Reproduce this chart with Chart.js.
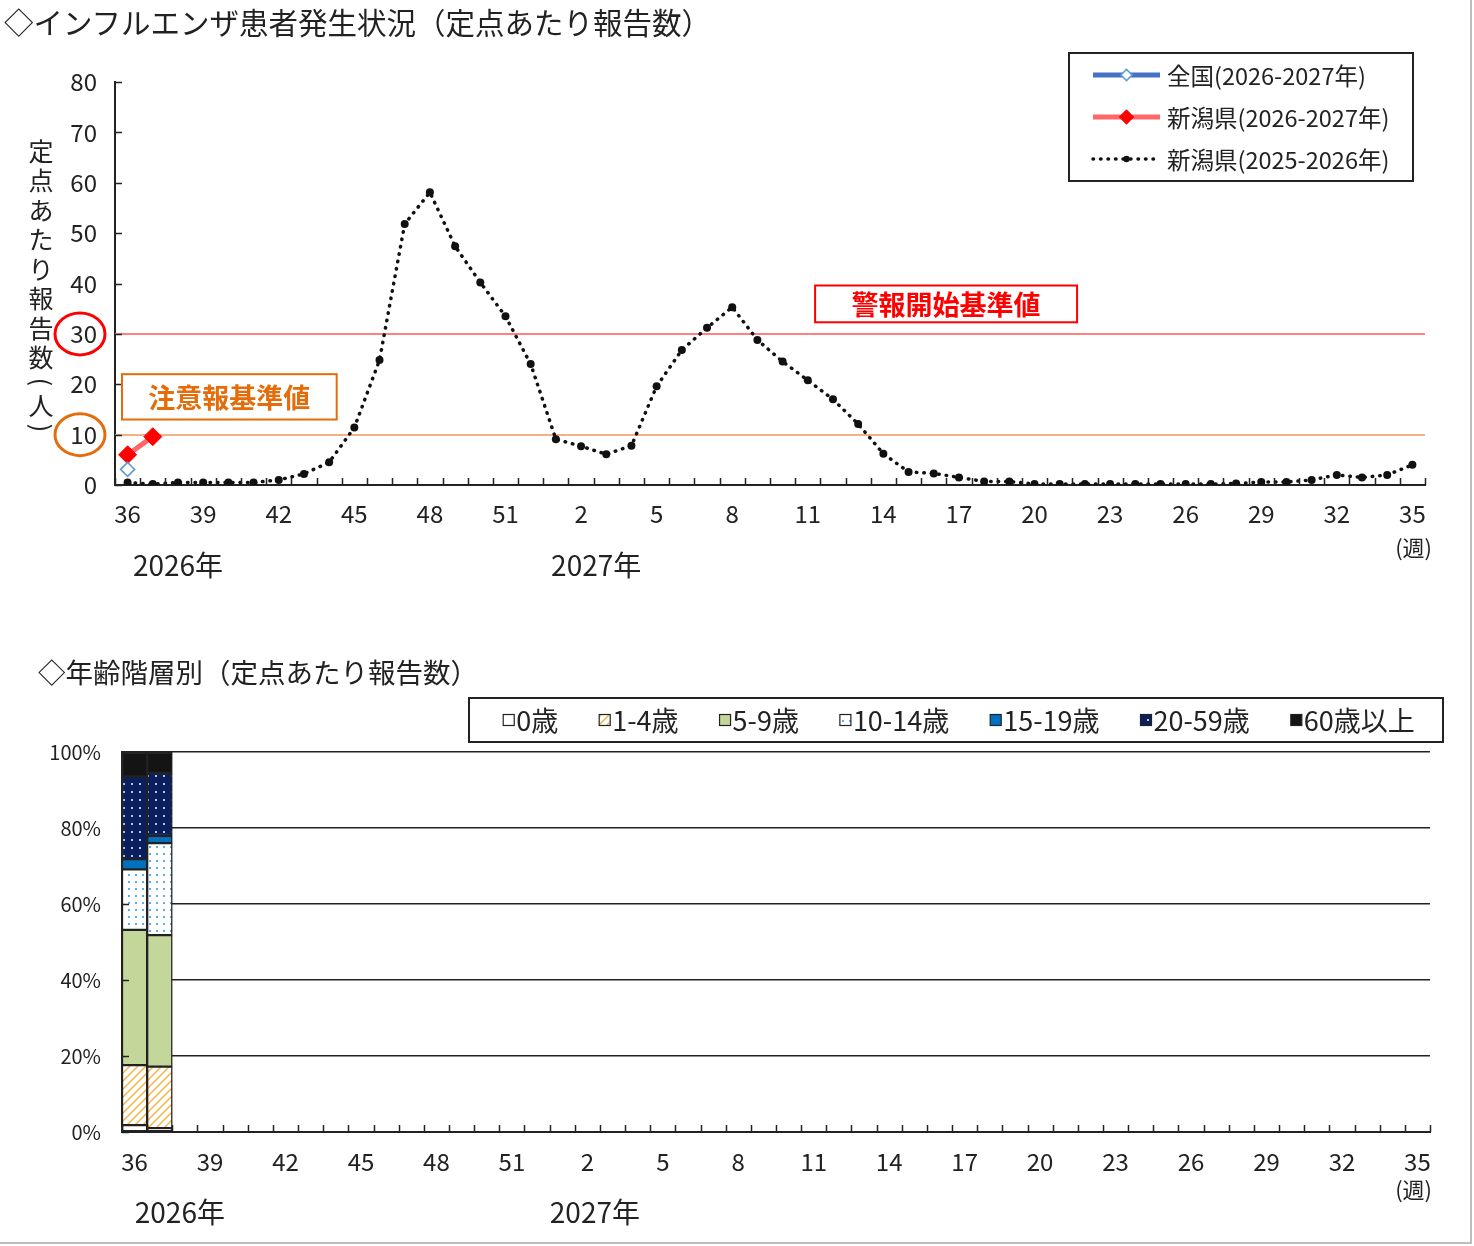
<!DOCTYPE html>
<html>
<head>
<meta charset="utf-8">
<script src="https://cdn.jsdelivr.net/npm/chart.js@4.4.1/dist/chart.umd.min.js"></script>
<style>
  body { margin: 0; background: #fff; }
  #page { position: relative; width: 1474px; height: 1246px; overflow: hidden; font-family: 'Noto Sans CJK JP', sans-serif; color: #222; }
  #frame { position: absolute; left: 0; top: 0; width: 1470px; height: 1242px; border-right: 2px solid #bdbdbd; border-bottom: 2px solid #bdbdbd; }
  .title { position: absolute; white-space: nowrap; line-height: 1; z-index: 2; }
  #title1 { left: 4px; top: 7px; font-size: 29.5px; }
  #title2 { left: 38px; top: 658px; font-size: 27.5px; }
  canvas { position: absolute; left: 0; }
  #trendChart { top: 0; }
  #ageChart { top: 620px; }
</style>
</head>
<body>
<div id="page">
  <div id="frame"></div>
  <div class="title" id="title1">◇インフルエンザ患者発生状況（定点あたり報告数）</div>
  <div class="title" id="title2">◇年齢階層別（定点あたり報告数）</div>
  <canvas id="trendChart" width="1474" height="620"></canvas>
  <canvas id="ageChart" width="1474" height="626"></canvas>
</div>
<script>
// week labels (2026 wk36 .. 2027 wk35)
const weekLabels = ['36','37','38','39','40','41','42','43','44','45','46','47','48','49','50','51','52',
  '1','2','3','4','5','6','7','8','9','10','11','12','13','14','15','16','17','18','19','20',
  '21','22','23','24','25','26','27','28','29','30','31','32','33','34','35'];

// reports per sentinel site
const nationalCur = [3.1];
const niigataCur = [6.0, 9.6];
const niigataPrev = [0.5, 0.2, 0.5, 0.5, 0.5, 0.5, 1.0, 2.2, 4.5, 11.4, 24.8, 51.8, 58.1, 47.4, 40.2, 33.5, 24.0,
  9.1, 7.7, 6.1, 7.8, 19.6, 26.8, 31.2, 35.3, 28.8, 24.5, 20.8, 17.0, 12.1, 6.2, 2.6, 2.3, 1.5, 0.7, 0.7,
  0.2, 0.2, 0.2, 0.2, 0.2, 0.2, 0.2, 0.2, 0.3, 0.6, 0.6, 1.0, 2.0, 1.5, 2.0, 4.0];

const ADVISORY_LEVEL = 10;
const ALERT_LEVEL = 30;

// age group shares (%)
const ageGroups = ['0歳', '1-4歳', '5-9歳', '10-14歳', '15-19歳', '20-59歳', '60歳以上'];
const age0 = [1.8, 1.0];
const age1to4 = [15.8, 16.2];
const age5to9 = [35.6, 34.6];
const age10to14 = [15.9, 24.2];
const age15to19 = [2.7, 1.9];
const age20to59 = [21.7, 16.5];
const age60plus = [6.5, 5.6];

Chart.defaults.font.family = "'Noto Sans CJK JP', sans-serif";
Chart.defaults.color = '#222';

function makePattern(size, bg, paint) {
    const c = document.createElement('canvas');
    c.width = c.height = size;
    const g = c.getContext('2d');
    g.fillStyle = bg;
    g.fillRect(0, 0, size, size);
    paint(g);
    return g.createPattern(c, 'repeat');
}

const hatchOrange = makePattern(8, '#fff', g => {
    g.strokeStyle = '#f6b545';
    g.lineWidth = 1.5;
    g.beginPath();
    g.moveTo(0, 8); g.lineTo(8, 0);
    g.moveTo(-2, 2); g.lineTo(2, -2);
    g.moveTo(6, 10); g.lineTo(10, 6);
    g.stroke();
});
const dotsBlue = makePattern(7, '#fff', g => {
    g.fillStyle = '#5aaef0';
    g.fillRect(2, 2, 2, 2);
});
const dotsNavy = makePattern(8, '#0b1f5e', g => {
    g.fillStyle = '#b7c3e6';
    g.fillRect(3, 3, 2, 2);
});

// draws tick marks pointing into the plot area
const inwardTicks = {
    id: 'inwardTicks',
    afterDatasetsDraw(chart) {
        const { ctx, chartArea: a, scales: { x, y } } = chart;
        ctx.save();
        ctx.strokeStyle = '#222';
        ctx.lineWidth = 1.5;
        ctx.beginPath();
        y.ticks.forEach(t => {
            const py = Math.round(y.getPixelForValue(t.value)) + 0.5;
            ctx.moveTo(a.left, py);
            ctx.lineTo(a.left + 7, py);
        });
        for (let i = 0; i <= x.getLabels().length; i++) {
            const px = Math.round(x.getPixelForValue(i - 0.5)) + 0.5;
            ctx.moveTo(px, a.bottom);
            ctx.lineTo(px, a.bottom - 7);
        }
        ctx.stroke();
        ctx.restore();
    }
};

// year captions and week unit under the x axis
const yearCaptions = {
    id: 'yearCaptions',
    afterDraw(chart, args, opts) {
        const { ctx, chartArea: a, scales: { x } } = chart;
        ctx.save();
        ctx.fillStyle = '#222';
        ctx.textBaseline = 'middle';
        ctx.textAlign = 'center';
        ctx.font = "28px 'Noto Sans CJK JP'";
        ctx.fillText('2026年', x.getPixelForValue(opts.at[0]), a.bottom + 80);
        ctx.fillText('2027年', x.getPixelForValue(opts.at[1]), a.bottom + 80);
        ctx.textAlign = 'right';
        ctx.font = "22px 'Noto Sans CJK JP'";
        ctx.fillText('(週)', a.right + opts.unitDx, a.bottom + opts.unitDy);
        ctx.restore();
    }
};

// threshold lines behind the data
const thresholdLines = {
    id: 'thresholdLines',
    beforeDatasetsDraw(chart) {
        const { ctx, chartArea: a, scales: { y } } = chart;
        ctx.save();
        ctx.lineWidth = 2;
        [[ALERT_LEVEL, '#ff7f82'], [ADVISORY_LEVEL, '#f5b184']].forEach(([v, c]) => {
            const py = Math.round(y.getPixelForValue(v));
            ctx.strokeStyle = c;
            ctx.beginPath();
            ctx.moveTo(a.left, py);
            ctx.lineTo(a.right, py);
            ctx.stroke();
        });
        ctx.restore();
    }
};

// boxes, circled tick labels, vertical axis title and legend for the trend chart
const trendDecor = {
    id: 'trendDecor',
    afterDraw(chart) {
        const { ctx, chartArea: a, scales: { x, y } } = chart;
        ctx.save();

        function labelBox(text, color, left, right, top, bottom) {
            ctx.fillStyle = '#fff';
            ctx.fillRect(left, top, right - left, bottom - top);
            ctx.strokeStyle = color;
            ctx.lineWidth = 2;
            ctx.strokeRect(left, top, right - left, bottom - top);
            ctx.fillStyle = color;
            ctx.font = "bold 27px 'Noto Sans CJK JP'";
            ctx.textAlign = 'center';
            ctx.textBaseline = 'middle';
            ctx.fillText(text, (left + right) / 2, (top + bottom) / 2 + 1);
        }
        labelBox('注意報基準値', '#e46c0a', a.left + 7, x.getPixelForValue(8.3), y.getPixelForValue(22), y.getPixelForValue(13));
        labelBox('警報開始基準値', '#ff0000', x.getPixelForValue(27.29), x.getPixelForValue(37.69), y.getPixelForValue(39.6), y.getPixelForValue(32.3));

        // circles round the 30 and 10 tick labels
        [[ALERT_LEVEL, '#ff0000'], [ADVISORY_LEVEL, '#e46c0a']].forEach(([v, c]) => {
            ctx.strokeStyle = c;
            ctx.lineWidth = 3;
            ctx.beginPath();
            ctx.ellipse(a.left - 35, y.getPixelForValue(v), 25, 21, 0, 0, Math.PI * 2);
            ctx.stroke();
        });

        // vertical y-axis title
        const tx = a.left - 74;
        const titleChars = ['定', '点', 'あ', 'た', 'り', '報', '告', '数'];
        ctx.fillStyle = '#222';
        ctx.font = "25px 'Noto Sans CJK JP'";
        ctx.textAlign = 'center';
        ctx.textBaseline = 'middle';
        titleChars.forEach((ch, i) => ctx.fillText(ch, tx, 151 + i * 29.5));
        ctx.fillText('人', tx, 405);
        [['(', 382], [')', 428]].forEach(([p, py]) => {
            ctx.save();
            ctx.translate(tx, py);
            ctx.rotate(Math.PI / 2);
            ctx.fillText(p, 0, 0);
            ctx.restore();
        });

        // legend
        const bx = a.right - 356, by = a.top - 29, bw = 344, bh = 128;
        ctx.fillStyle = '#fff';
        ctx.fillRect(bx, by, bw, bh);
        ctx.strokeStyle = '#222';
        ctx.lineWidth = 2;
        ctx.strokeRect(bx, by, bw, bh);
        chart.data.datasets.forEach((ds, i) => {
            const cy = by + 22 + i * 42;
            const x0 = bx + 24, x1 = bx + 91;
            ctx.save();
            ctx.strokeStyle = ds.borderColor;
            ctx.lineWidth = ds.borderWidth;
            ctx.lineCap = ds.borderCapStyle || 'butt';
            ctx.setLineDash(ds.borderDash || []);
            ctx.beginPath();
            ctx.moveTo(x0, cy);
            ctx.lineTo(x1, cy);
            ctx.stroke();
            ctx.restore();
            ctx.fillStyle = ds.pointBackgroundColor;
            ctx.strokeStyle = ds.pointBorderColor;
            ctx.lineWidth = ds.pointBorderWidth;
            Chart.helpers.drawPoint(ctx, { pointStyle: ds.pointStyle, radius: ds.pointRadius * 0.8, borderWidth: ds.pointBorderWidth }, (x0 + x1) / 2, cy);
            ctx.fillStyle = '#222';
            ctx.font = "23.5px 'Noto Sans CJK JP'";
            ctx.textAlign = 'left';
            ctx.textBaseline = 'middle';
            ctx.fillText(ds.label, x1 + 7, cy + 1);
        });
        ctx.restore();
    }
};

new Chart(document.getElementById('trendChart'), {
    type: 'line',
    data: {
        labels: weekLabels,
        datasets: [{
            label: '全国(2026-2027年)',
            data: nationalCur,
            borderColor: '#4472c4',
            borderWidth: 5,
            pointStyle: 'rectRot',
            pointRadius: 7,
            pointBackgroundColor: '#fff',
            pointBorderColor: '#5b9bd5',
            pointBorderWidth: 1.5
        }, {
            label: '新潟県(2026-2027年)',
            data: niigataCur,
            borderColor: '#ff6868',
            borderWidth: 5,
            pointStyle: 'rectRot',
            pointRadius: 9,
            pointBackgroundColor: '#ff0000',
            pointBorderColor: '#ff0000',
            pointBorderWidth: 1
        }, {
            label: '新潟県(2025-2026年)',
            data: niigataPrev,
            borderColor: '#111',
            borderWidth: 3.5,
            borderDash: [0.5, 7],
            borderCapStyle: 'round',
            pointStyle: 'circle',
            pointRadius: 4,
            pointBackgroundColor: '#111',
            pointBorderColor: '#111',
            pointBorderWidth: 0
        }]
    },
    options: {
        responsive: false,
        animation: false,
        devicePixelRatio: 1,
        layout: { padding: { left: 55, top: 82, right: 49, bottom: 85 } },
        scales: {
            x: {
                offset: true,
                grid: { display: false, drawTicks: false },
                border: { display: true, color: '#222', width: 2 },
                ticks: {
                    autoSkip: false, maxRotation: 0, padding: 14,
                    font: { size: 24 }, color: '#222',
                    callback: (v, i) => (i % 3 === 0 ? weekLabels[i] : '')
                },
                afterFit: s => { s.height = 50; }
            },
            y: {
                min: 0, max: 80,
                grid: { display: false, drawTicks: false },
                border: { display: true, color: '#222', width: 2 },
                ticks: { stepSize: 10, padding: 18, font: { size: 24 }, color: '#222' },
                afterFit: s => { s.width = 60; }
            }
        },
        plugins: {
            legend: { display: false },
            tooltip: { enabled: false },
            yearCaptions: { at: [2, 18.6], unitDx: 7, unitDy: 63 }
        }
    },
    plugins: [thresholdLines, inwardTicks, yearCaptions, trendDecor]
});

// legend row for the age chart
const ageLegend = {
    id: 'ageLegend',
    afterDraw(chart) {
        const { ctx, chartArea: a } = chart;
        const bx = 469, by = a.top - 54, bw = a.right + 13 - 469, bh = 44;
        ctx.save();
        ctx.fillStyle = '#fff';
        ctx.fillRect(bx, by, bw, bh);
        ctx.strokeStyle = '#222';
        ctx.lineWidth = 2;
        ctx.strokeRect(bx, by, bw, bh);
        ctx.font = "27px 'Noto Sans CJK JP'";
        ctx.textBaseline = 'middle';
        ctx.textAlign = 'left';
        const sw = 11, gap = 2, spacing = 41;
        const widths = chart.data.datasets.map(ds => sw + gap + ctx.measureText(ds.label).width);
        const total = widths.reduce((s, w) => s + w, 0) + spacing * (widths.length - 1);
        let cx = bx + (bw - total) / 2 + 3;
        const cy = by + bh / 2;
        chart.data.datasets.forEach((ds, i) => {
            ctx.fillStyle = ds.backgroundColor;
            ctx.fillRect(cx, cy - sw / 2, sw, sw);
            ctx.strokeStyle = '#222';
            ctx.lineWidth = 1.2;
            ctx.strokeRect(cx, cy - sw / 2, sw, sw);
            ctx.fillStyle = '#222';
            ctx.fillText(ds.label, cx + sw + gap, cy + 1);
            cx += widths[i] + spacing;
        });
        ctx.restore();
    }
};

const ageSeries = [age0, age1to4, age5to9, age10to14, age15to19, age20to59, age60plus];
const ageFills = ['#fff', hatchOrange, '#c4d79b', dotsBlue, '#0070c0', dotsNavy, '#141414'];

new Chart(document.getElementById('ageChart'), {
    type: 'bar',
    data: {
        labels: weekLabels,
        datasets: ageGroups.map((name, i) => ({
            label: name,
            data: ageSeries[i],
            backgroundColor: ageFills[i],
            borderColor: '#222',
            borderWidth: 1.5,
            borderSkipped: false,
            barPercentage: 1,
            categoryPercentage: 1
        }))
    },
    options: {
        responsive: false,
        animation: false,
        devicePixelRatio: 1,
        layout: { padding: { left: 42, top: 132, right: 44, bottom: 64 } },
        scales: {
            x: {
                stacked: true,
                grid: { display: false, drawTicks: false },
                border: { display: true, color: '#222', width: 2 },
                ticks: {
                    autoSkip: false, maxRotation: 0, padding: 15,
                    font: { size: 24 }, color: '#222',
                    callback: (v, i) => (i % 3 === 0 ? weekLabels[i] : '')
                },
                afterFit: s => { s.height = 50; }
            },
            y: {
                stacked: true,
                min: 0, max: 100,
                grid: { display: true, drawTicks: false, color: '#222', lineWidth: 1.5 },
                border: { display: true, color: '#222', width: 2 },
                ticks: { stepSize: 20, padding: 21, font: { size: 20 }, color: '#222', callback: v => v + '%' },
                afterFit: s => { s.width = 80; }
            }
        },
        plugins: {
            legend: { display: false },
            tooltip: { enabled: false },
            yearCaptions: { at: [1.8, 18.3], unitDx: 2, unitDy: 58 }
        }
    },
    plugins: [inwardTicks, yearCaptions, ageLegend]
});
</script>
</body>
</html>
